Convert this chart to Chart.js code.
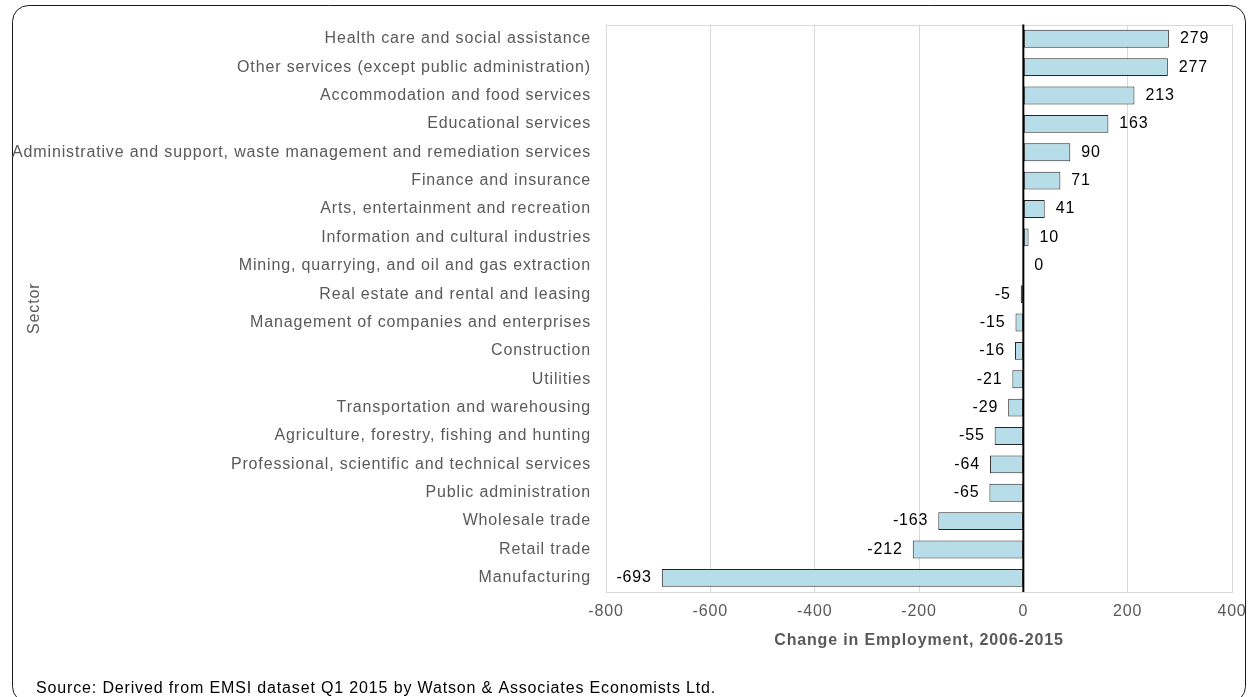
<!DOCTYPE html>
<html>
<head>
<meta charset="utf-8">
<title>Change in Employment by Sector, 2006-2015</title>
<script src="https://cdn.jsdelivr.net/npm/chart.js@4"></script>
<style>
  html, body { margin: 0; padding: 0; background: #fff; }
  #wrap { position: relative; width: 1248px; height: 697px; }
</style>
</head>
<body>
<div id="wrap"><canvas id="sectorChart" width="1248" height="697"></canvas></div>
<script>
// sectors, largest gain first
const sectors = [
    'Health care and social assistance',
    'Other services (except public administration)',
    'Accommodation and food services',
    'Educational services',
    'Administrative and support, waste management and remediation services',
    'Finance and insurance',
    'Arts, entertainment and recreation',
    'Information and cultural industries',
    'Mining, quarrying, and oil and gas extraction',
    'Real estate and rental and leasing',
    'Management of companies and enterprises',
    'Construction',
    'Utilities',
    'Transportation and warehousing',
    'Agriculture, forestry, fishing and hunting',
    'Professional, scientific and technical services',
    'Public administration',
    'Wholesale trade',
    'Retail trade',
    'Manufacturing'
];
const employmentChange = [279, 277, 213, 163, 90, 71, 41, 10, 0, -5, -15, -16, -21, -29, -55, -64, -65, -163, -212, -693];
const xTicks = [-800, -600, -400, -200, 0, 200, 400];

const FONT = "'Liberation Sans', Arial, sans-serif";
const GREY = '#595959';
const SPACING = '0.85px';

// outer frame, plot box, zero line and value labels
const decorations = {
    id: 'decorations',
    beforeLayout: function(chart) {
        chart.ctx.letterSpacing = SPACING;
    },
    beforeDraw: function(chart) {
        const ctx = chart.ctx;
        ctx.letterSpacing = SPACING;
        ctx.save();
        ctx.fillStyle = '#fff';
        ctx.fillRect(0, 0, chart.width, chart.height);
        ctx.strokeStyle = '#1a1a1a';
        ctx.lineWidth = 1;
        ctx.beginPath();
        ctx.roundRect(12.5, 5.5, 1233, 697, 16);
        ctx.stroke();
        ctx.restore();
    },
    beforeDatasetsDraw: function(chart) {
        const a = chart.chartArea;
        const ctx = chart.ctx;
        ctx.save();
        ctx.strokeStyle = '#d9d9d9';
        ctx.lineWidth = 1;
        ctx.strokeRect(Math.round(a.left) + 0.5, Math.round(a.top) + 0.5,
            Math.round(a.right - a.left), Math.round(a.bottom - a.top));
        ctx.restore();
    },
    afterDatasetsDraw: function(chart) {
        const a = chart.chartArea;
        const ctx = chart.ctx;
        const x0 = chart.scales.x.getPixelForValue(0);
        ctx.save();
        ctx.strokeStyle = '#000';
        ctx.lineWidth = 2;
        ctx.beginPath();
        ctx.moveTo(x0, a.top);
        ctx.lineTo(x0, a.bottom);
        ctx.stroke();

        ctx.fillStyle = '#000';
        ctx.font = '16px ' + FONT;
        ctx.textBaseline = 'middle';
        chart.getDatasetMeta(0).data.forEach(function(bar, i) {
            const v = employmentChange[i];
            if (v < 0) {
                ctx.textAlign = 'right';
                ctx.fillText(String(v), bar.x - 10, bar.y);
            } else {
                ctx.textAlign = 'left';
                ctx.fillText(String(v), bar.x + 11, bar.y);
            }
        });
        ctx.restore();
    },
    afterDraw: function(chart) {
        // source note under the chart
        const ctx = chart.ctx;
        ctx.save();
        ctx.fillStyle = '#000';
        ctx.font = '16px ' + FONT;
        ctx.textBaseline = 'middle';
        ctx.textAlign = 'left';
        ctx.fillText('Source: Derived from EMSI dataset Q1 2015 by Watson & Associates Economists Ltd.', 36, 689);
        ctx.restore();
    }
};

new Chart(document.getElementById('sectorChart'), {
    type: 'bar',
    data: {
        labels: sectors,
        datasets: [{
            data: employmentChange,
            backgroundColor: '#b7dde8',
            borderColor: '#262626',
            borderWidth: 1,
            borderSkipped: false,
            categoryPercentage: 1,
            barPercentage: 0.63
        }]
    },
    options: {
        indexAxis: 'y',
        responsive: false,
        animation: false,
        layout: { padding: { top: 23, right: 16, bottom: 45, left: 0 } },
        plugins: {
            legend: { display: false },
            tooltip: { enabled: false }
        },
        scales: {
            x: {
                min: -800,
                max: 400,
                afterBuildTicks: function(scale) {
                    scale.ticks = xTicks.map(v => ({ value: v }));
                },
                afterFit: function(scale) {
                    scale.height = 60;
                    scale.paddingLeft = 0;
                    scale.paddingRight = 0;
                },
                grid: { color: '#d9d9d9', drawTicks: false },
                border: { display: false },
                ticks: { color: GREY, font: { family: FONT, size: 16 }, padding: 10 },
                title: {
                    display: true,
                    text: 'Change in Employment, 2006-2015',
                    color: GREY,
                    font: { family: FONT, size: 16, weight: 'bold' },
                    padding: { top: 0, bottom: 2 }
                }
            },
            y: {
                afterFit: function(scale) { scale.width = 606; },
                grid: { display: false, drawTicks: false },
                border: { display: false },
                ticks: { color: GREY, font: { family: FONT, size: 16 }, padding: 15, autoSkip: false },
                title: {
                    display: true,
                    text: 'Sector',
                    color: GREY,
                    font: { family: FONT, size: 16 },
                    padding: { top: 25, bottom: 0 }
                }
            }
        }
    },
    plugins: [decorations]
});
</script>
</body>
</html>
